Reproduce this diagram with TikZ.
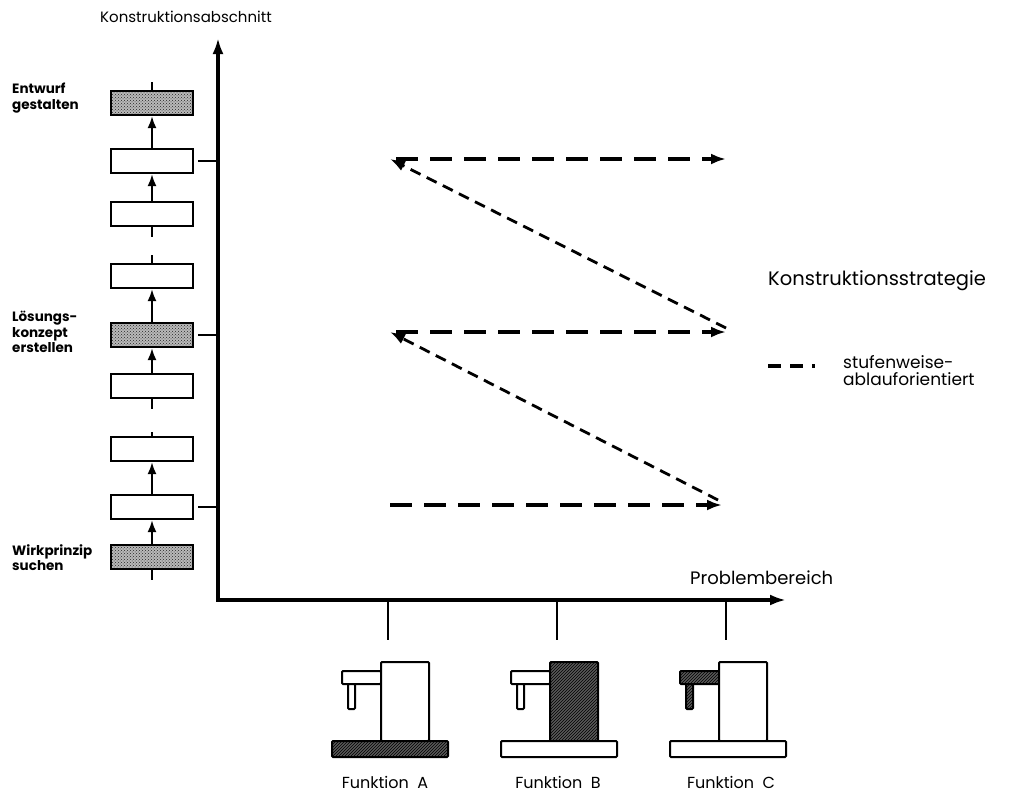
\documentclass[tikz,border=0pt]{standalone}
\usepackage{fontspec}
\setmainfont{Poppins}
\usetikzlibrary{arrows.meta,patterns}

\begin{document}
\begin{tikzpicture}[x=1pt,y=-1pt,
  stage/.style={draw, line width=2.2pt, fill=white, minimum width=82pt,
    minimum height=24pt, inner sep=0pt},
  keystage/.style={draw, line width=2.2pt, minimum width=82pt,
    minimum height=24pt, inner sep=0pt, preaction={fill=gray!55},
    pattern=crosshatch dots, pattern color=black!85},
  flow/.style={line width=2pt, -{Latex[length=12pt,width=9pt]}},
  stub/.style={line width=2pt},
  axis/.style={line width=3.4pt, {Latex[length=16pt,width=11pt]}-{Latex[length=16pt,width=11pt]}},
  tick/.style={line width=1.4pt},
  hstep/.style={line width=3.4pt, dash pattern=on 22pt off 12pt,
    -{Latex[length=15pt,width=11pt]}},
  diag/.style={line width=2.8pt, dash pattern=on 11pt off 7pt,
    -{Latex[length=15pt,width=11pt]}},
  label/.style={font=\bfseries\fontsize{13.5}{15.5}\selectfont, align=left,
    anchor=north west, inner sep=0pt},
  part/.style={draw, line width=2pt, fill=white, rounded corners=1pt},
  hpart/.style={draw, line width=2pt, rounded corners=1pt,
    preaction={fill=black!65}, pattern=north east lines, pattern color=black},
]
\useasboundingbox (0,0) rectangle (1020,801);

% axes
\coordinate (O) at (218,600);
\coordinate (ytop) at (218,38);
\coordinate (xend) at (786,600);
\draw[axis] (ytop) -- (O) -- (xend);
\node[anchor=west, inner sep=0pt, font=\fontsize{15}{17}\selectfont] (ytitle) at (100,17) {Konstruktionsabschnitt};
\node[anchor=west, inner sep=0pt, font=\fontsize{18}{20}\selectfont] (xtitle) at (690,578) {Problembereich};

% stage column
\node[keystage] (b1) at (152,103) {};
\node[stage]    (b2) at (152,161) {};
\node[stage]    (b3) at (152,214) {};
\node[stage]    (b4) at (152,276) {};
\node[keystage] (b5) at (152,335) {};
\node[stage]    (b6) at (152,386) {};
\node[stage]    (b7) at (152,449) {};
\node[stage]    (b8) at (152,507) {};
\node[keystage] (b9) at (152,557) {};

\coordinate (s1) at (152,82);
\coordinate (s3) at (152,237);
\coordinate (s4) at (152,255);
\coordinate (s6) at (152,409);
\coordinate (s7) at (152,432);
\coordinate (s9) at (152,580);
\draw[stub] (b1.north) -- (s1);
\draw[flow] (b2.north) -- (b1.south);
\draw[flow] (b3.north) -- (b2.south);
\draw[stub] (b3.south) -- (s3);
\draw[stub] (b4.north) -- (s4);
\draw[flow] (b5.north) -- (b4.south);
\draw[flow] (b6.north) -- (b5.south);
\draw[stub] (b6.south) -- (s6);
\draw[stub] (b7.north) -- (s7);
\draw[flow] (b8.north) -- (b7.south);
\draw[flow] (b9.north) -- (b8.south);
\draw[stub] (b9.south) -- (s9);

\node[label] (l1) at (12,83) {Entwurf\\gestalten};
\node[label] (l5) at (12,311) {Lösungs-\\konzept\\erstellen};
\node[label] (l9) at (12,544) {Wirkprinzip\\suchen};

% ticks on the vertical axis
\foreach \n/\y in {2/161,5/335,8/507} {
  \coordinate (ty\n) at (218,\y);
  \draw[tick] (b\n.east) ++(4pt,0) -- (ty\n);
}

% ticks on the horizontal axis
\foreach \n/\x in {A/388,B/557,C/726} {
  \coordinate (ax\n) at (\x,600);
  \coordinate (tx\n) at (\x,640);
  \draw[tick] (ax\n) -- (tx\n);
}

% strategy path
\coordinate (L1) at (390,505);
\coordinate (R1) at (722,505);
\coordinate (D1) at (718,500);
\coordinate (L2) at (390,332);
\coordinate (R2) at (726,332);
\coordinate (D2) at (726,328);
\coordinate (L3) at (390,159);
\coordinate (R3) at (726,159);
\draw[hstep] (L1) -- (R1);
\draw[diag] (D1) -- (L2);
\draw[hstep] ([xshift=6pt]L2) -- (R2);
\draw[diag] (D2) -- (L3);
\draw[hstep] ([xshift=6pt]L3) -- (R3);

% legend
\node[anchor=west, inner sep=0pt, font=\fontsize{19.5}{21}\selectfont] (strat) at (768,281) {Konstruktionsstrategie};
\coordinate (k1) at (768,366);
\coordinate (k2) at (815,366);
\draw[line width=3.2pt, dash pattern=on 13pt off 9pt] (k1) -- (k2);
\node[anchor=north west, inner sep=0pt, align=left, font=\fontsize{17}{17}\selectfont] (kdesc) at (843,355) {stufenweise-\\ablauforientiert};

% machines
\newcommand{\machine}[5]{%
  \begin{scope}[xshift=#1pt]
    \draw[#4] (-46,671) rectangle (-7,684);
    \draw[#5] (-40,684) rectangle (-33,709);
    \draw[#3] (-7,662) rectangle (41,741);
    \draw[#2] (-56,741) rectangle (60,757);
  \end{scope}}
\machine{388}{hpart}{part}{part}{part}
\machine{557}{part}{hpart}{part}{part}
\machine{726}{part}{part}{hpart}{hpart}

\node[font=\fontsize{16}{18}\selectfont, inner sep=0pt] (fA) at (385,782) {Funktion\ \ A};
\node[font=\fontsize{16}{18}\selectfont, inner sep=0pt] (fB) at (558,782) {Funktion\ \ B};
\node[font=\fontsize{16}{18}\selectfont, inner sep=0pt] (fC) at (731,782) {Funktion\ \ C};
\end{tikzpicture}
\end{document}
